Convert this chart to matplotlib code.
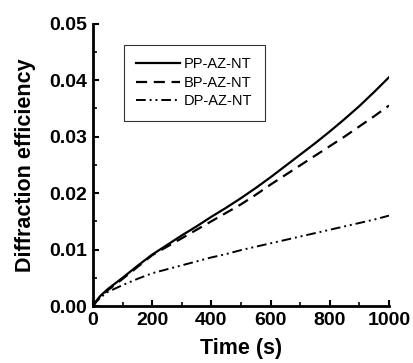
import numpy as np
import matplotlib
matplotlib.use("Agg")
import matplotlib.pyplot as plt
from matplotlib.ticker import MultipleLocator, FormatStrFormatter

plt.rcParams['font.family'] = ['Liberation Sans', 'DejaVu Sans']

# data
time_s = [0, 10, 25, 50, 100, 150, 200, 250, 300, 350, 400, 450, 500,
          550, 600, 650, 700, 750, 800, 850, 900, 950, 1000]
pp_az_nt = [0, 0.0008, 0.0018, 0.0030, 0.0050, 0.0071, 0.0091, 0.0108, 0.0125,
            0.0141, 0.0158, 0.0174, 0.0191, 0.0209, 0.0228, 0.0248, 0.0268,
            0.0288, 0.0309, 0.0331, 0.0354, 0.0379, 0.0405]
bp_az_nt = [0, 0.0007, 0.0017, 0.0028, 0.0048, 0.0069, 0.0090, 0.0105, 0.0120,
            0.0135, 0.0150, 0.0165, 0.0180, 0.0197, 0.0215, 0.0232, 0.0249,
            0.0266, 0.0283, 0.0300, 0.0318, 0.0336, 0.0355]
dp_az_nt = [0, 0.0007, 0.0015, 0.0025, 0.0037, 0.0048, 0.0058, 0.0065, 0.0072,
            0.0079, 0.0086, 0.0092, 0.0099, 0.0105, 0.0111, 0.0117, 0.0123,
            0.0129, 0.0135, 0.0141, 0.0147, 0.0153, 0.0160]
labels = ["PP-AZ-NT", "BP-AZ-NT", "DP-AZ-NT"]

fig = plt.figure(figsize=(4.14, 3.63), dpi=100)
ax = fig.add_axes([0.2246, 0.157, 0.715, 0.778])

ax.plot(time_s, pp_az_nt, color="black", lw=1.6, linestyle="-", label=labels[0])
ax.plot(time_s, bp_az_nt, color="black", lw=1.6, linestyle=(0, (5, 3)), label=labels[1])
ax.plot(time_s, dp_az_nt, color="black", lw=1.4,
        linestyle=(0, (5, 2, 1, 2, 1, 2)), label=labels[2])

ax.set_xlim(0, 1000)
ax.set_ylim(0, 0.05)
ax.xaxis.set_major_locator(MultipleLocator(200))
ax.xaxis.set_minor_locator(MultipleLocator(100))
ax.yaxis.set_major_locator(MultipleLocator(0.01))
ax.yaxis.set_minor_locator(MultipleLocator(0.005))
ax.yaxis.set_major_formatter(FormatStrFormatter('%.2f'))

for side in ["top", "right"]:
    ax.spines[side].set_visible(False)
for side in ["left", "bottom"]:
    ax.spines[side].set_linewidth(2)

ax.tick_params(which="major", direction="in", length=4, width=1.5,
               labelsize=14, pad=4)
ax.tick_params(which="minor", direction="in", length=3, width=1.2)
for lbl in ax.get_xticklabels() + ax.get_yticklabels():
    lbl.set_fontweight("bold")

ax.set_xlabel("Time (s)", fontsize=15.5, fontweight="bold", labelpad=7)
ax.set_ylabel("Diffraction efficiency", fontsize=15.5, fontweight="bold", labelpad=10)

leg = ax.legend(loc="upper left", bbox_to_anchor=(0.105, 0.924), fontsize=10.5,
                frameon=True, fancybox=False, handlelength=3.0, handletextpad=0.27,
                borderpad=0.85, labelspacing=0.3, borderaxespad=0)
leg.get_frame().set_edgecolor("black")
leg.get_frame().set_linewidth(0.8)

plt.savefig("out.png", dpi=100)
